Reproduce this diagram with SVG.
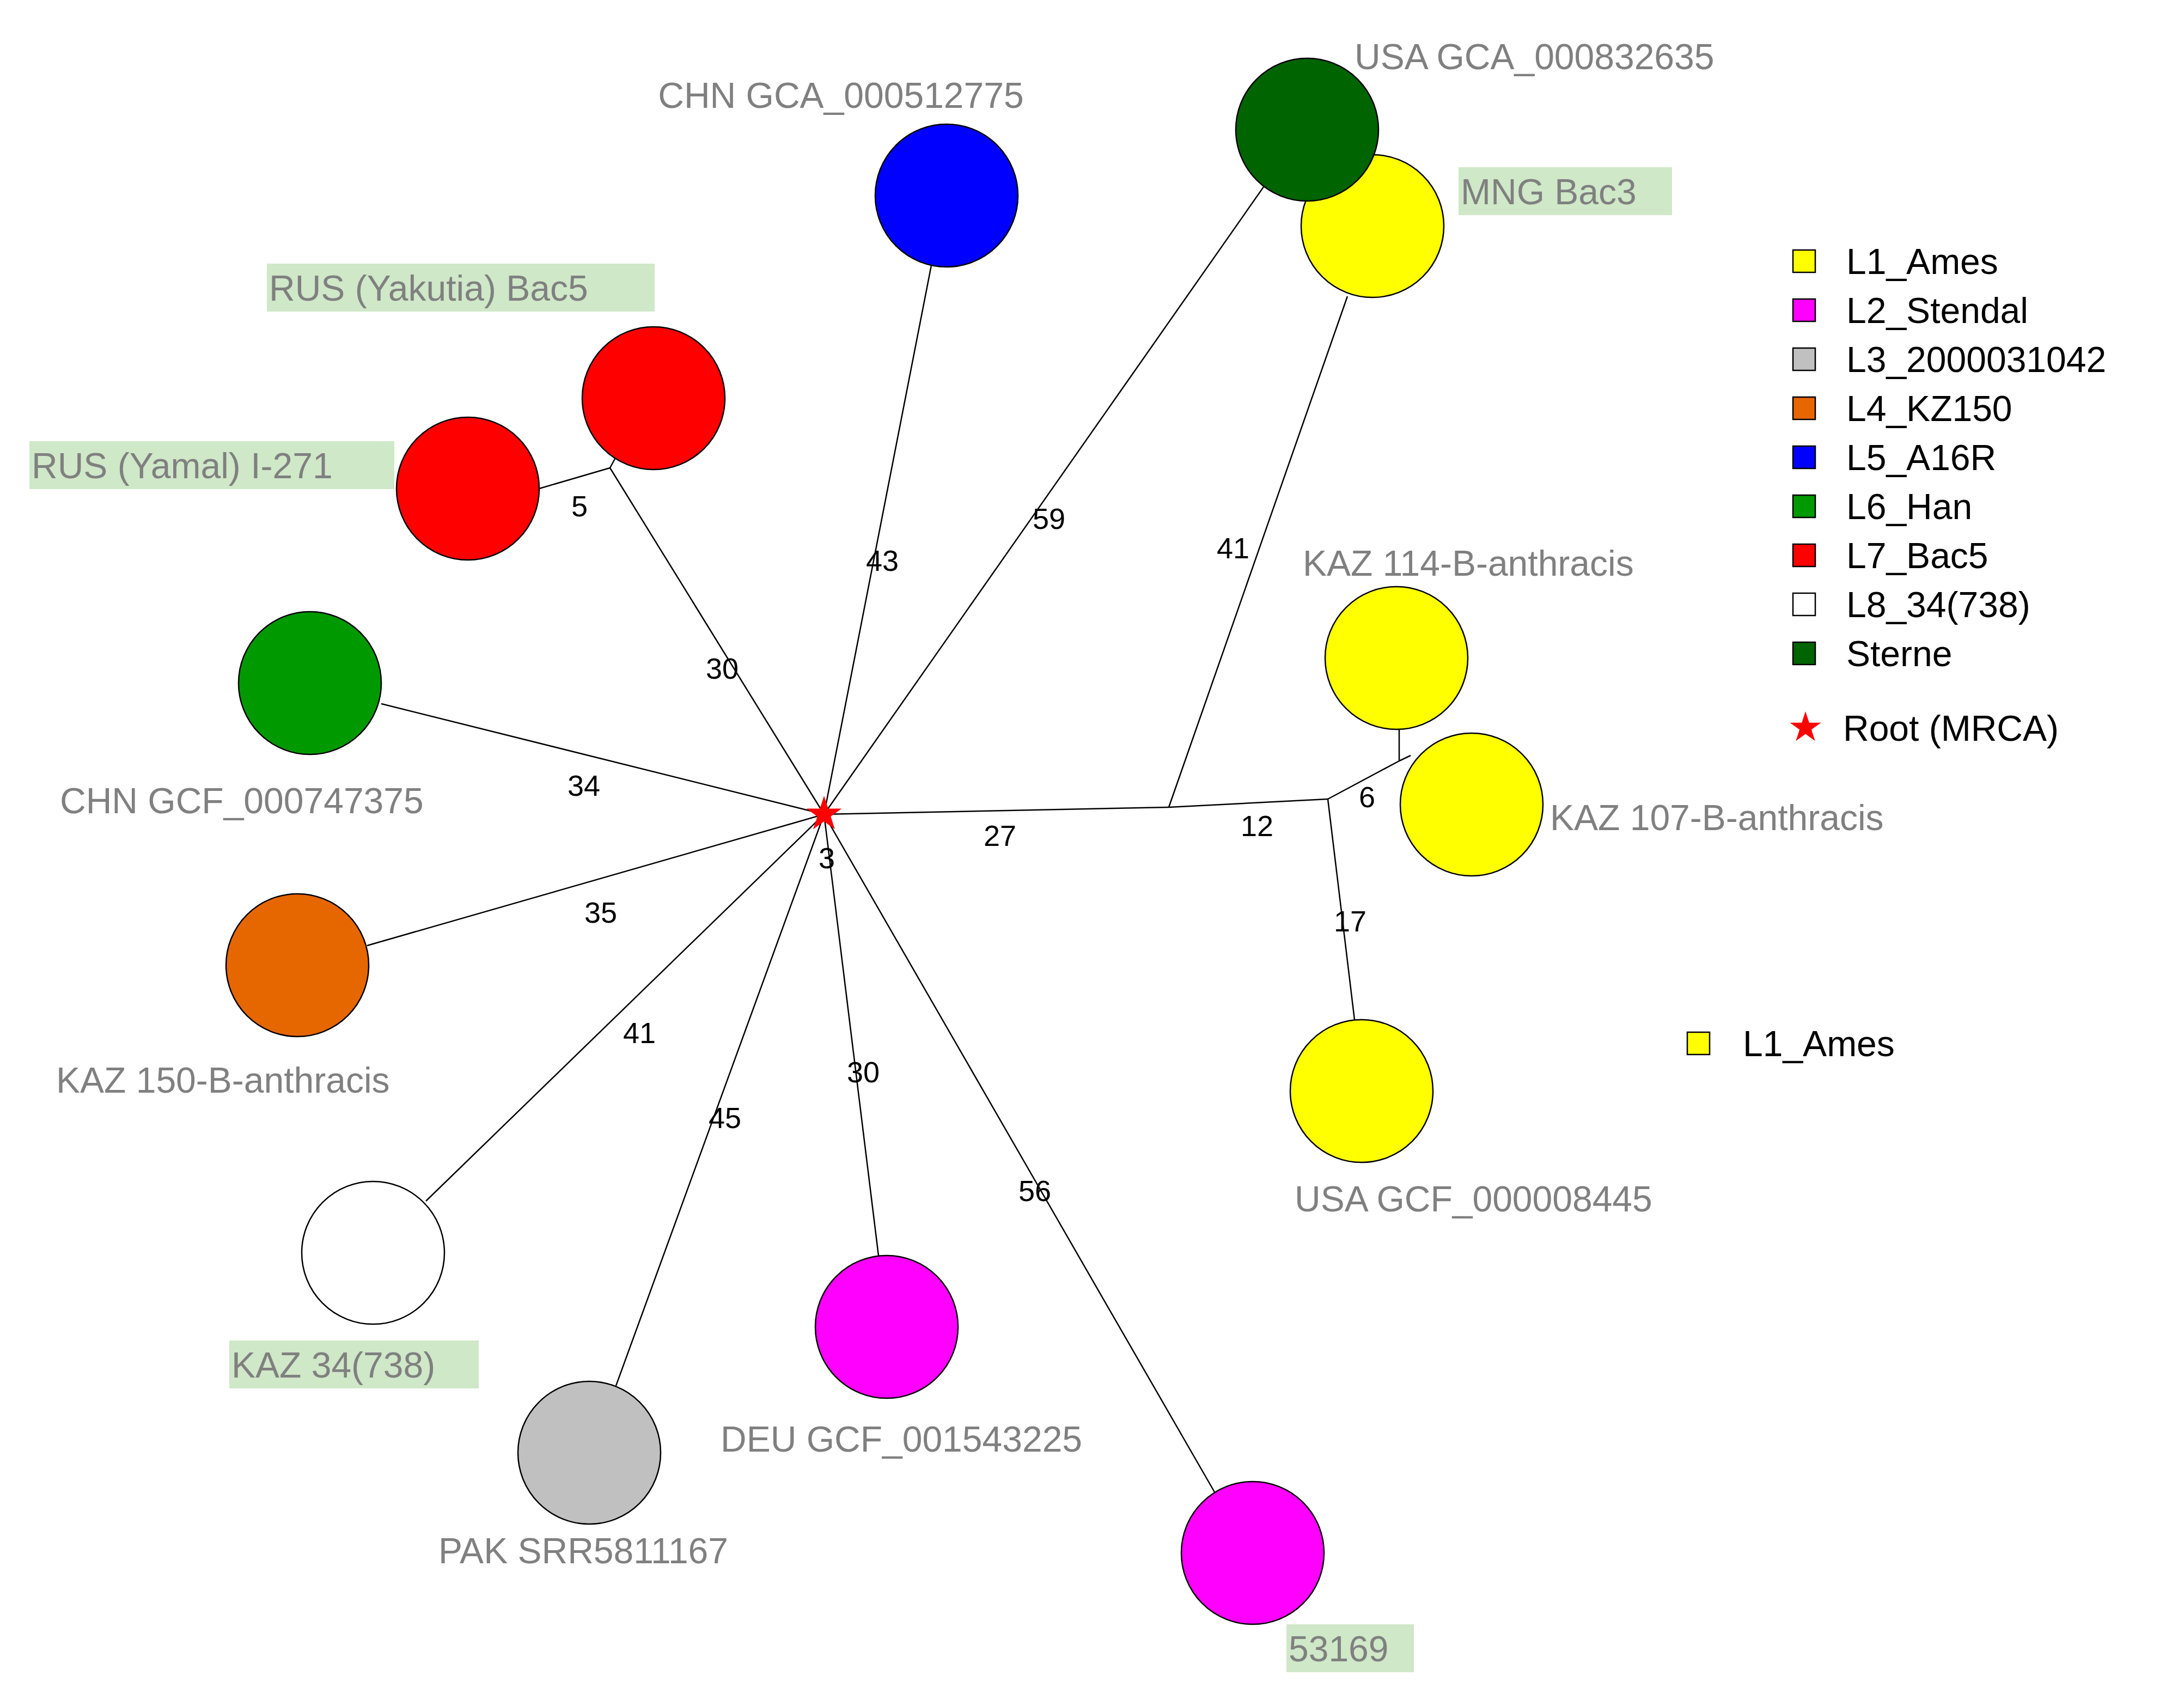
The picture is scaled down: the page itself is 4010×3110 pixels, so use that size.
<svg xmlns="http://www.w3.org/2000/svg" width="4010" height="3110" viewBox="0 0 4010 3110">
<style>
text{font-family:"Liberation Sans",Arial,sans-serif}
.n{stroke:#000;stroke-width:2.5}
.lb{font-size:66px;fill:#808080}
.el{font-size:54px;fill:#000;text-anchor:middle}
.lg{font-size:66px;fill:#000}
.hl{fill:#cfe8c8}
.sq{stroke:#000;stroke-width:2.5}
#edges line{stroke:#000;stroke-width:2.5}
</style>
<rect width="4010" height="3110" fill="#fff"/>
<g id="edges">
<line x1="1513" y1="1495" x2="2146" y2="1482"/>
<line x1="2146" y1="1482" x2="2438" y2="1467"/>
<line x1="2438" y1="1467" x2="2569" y2="1397"/>
<line x1="2569" y1="1397" x2="2569" y2="1333"/>
<line x1="2569" y1="1397" x2="2590" y2="1387"/>
<line x1="2438" y1="1467" x2="2487" y2="1872"/>
<line x1="2146" y1="1482" x2="2474" y2="544"/>
<line x1="1513" y1="1495" x2="2325" y2="336"/>
<line x1="1513" y1="1495" x2="1710" y2="487"/>
<line x1="1513" y1="1495" x2="1120" y2="859"/>
<line x1="1120" y1="859" x2="990" y2="897"/>
<line x1="1120" y1="859" x2="1141" y2="820"/>
<line x1="1513" y1="1495" x2="700" y2="1292"/>
<line x1="1513" y1="1495" x2="674" y2="1736"/>
<line x1="1513" y1="1495" x2="782" y2="2205"/>
<line x1="1513" y1="1495" x2="1131" y2="2544"/>
<line x1="1513" y1="1495" x2="1613" y2="2305"/>
<line x1="1513" y1="1495" x2="2231" y2="2741"/>
</g>
<g id="edge-labels">
<text class="el" x="1836" y="1553">27</text>
<text class="el" x="2308" y="1535">12</text>
<text class="el" x="2510" y="1482">6</text>
<text class="el" x="2479" y="1710">17</text>
<text class="el" x="2264" y="1025">41</text>
<text class="el" x="1926" y="971">59</text>
<text class="el" x="1620" y="1048">43</text>
<text class="el" x="1326" y="1246">30</text>
<text class="el" x="1064" y="948">5</text>
<text class="el" x="1072" y="1461">34</text>
<text class="el" x="1103" y="1694">35</text>
<text class="el" x="1174" y="1915">41</text>
<text class="el" x="1331" y="2071">45</text>
<text class="el" x="1585" y="1987">30</text>
<text class="el" x="1900" y="2205">56</text>
<text class="el" x="1518" y="1594">3</text>
</g>
<g id="root"><polygon fill="#f00" transform="translate(1513,1495) scale(34)" points="0,-1 0.225,-0.309 0.951,-0.309 0.363,0.118 0.588,0.809 0,0.382 -0.588,0.809 -0.363,0.118 -0.951,-0.309 -0.225,-0.309"/></g>
<g id="n-chn-gca512775"><circle class="n" cx="1738" cy="359" r="131" fill="#0000ff"/><text class="lb" x="1544" y="198" text-anchor="middle">CHN GCA_000512775</text></g>
<g id="n-usa-gca832635"><circle class="n" cx="2520" cy="415" r="131" fill="#ffff00"/><circle class="n" cx="2400" cy="238" r="131" fill="#006400"/><text class="lb" x="2487" y="127">USA GCA_000832635</text></g>
<g id="n-mng"><rect class="hl" x="2678" y="307" width="392" height="88"/><text class="lb" x="2682" y="375">MNG Bac3</text></g>
<g id="n-rus-yak"><circle class="n" cx="1200" cy="731" r="131" fill="#ff0000"/><rect class="hl" x="490" y="484" width="712" height="88"/><text class="lb" x="494" y="552">RUS (Yakutia) Bac5</text></g>
<g id="n-rus-yamal"><circle class="n" cx="859" cy="897" r="131" fill="#ff0000"/><rect class="hl" x="54" y="810" width="670" height="88"/><text class="lb" x="58" y="878">RUS (Yamal) I-271</text></g>
<g id="n-chn-gcf"><circle class="n" cx="569" cy="1254" r="131" fill="#009900"/><text class="lb" x="110" y="1493">CHN GCF_000747375</text></g>
<g id="n-kaz150"><circle class="n" cx="546" cy="1772" r="131" fill="#e66600"/><text class="lb" x="103" y="2006">KAZ 150-B-anthracis</text></g>
<g id="n-kaz34"><circle class="n" cx="685" cy="2300" r="131" fill="#fff"/><rect class="hl" x="421" y="2461" width="458" height="88"/><text class="lb" x="425" y="2529">KAZ 34(738)</text></g>
<g id="n-pak"><circle class="n" cx="1082" cy="2667" r="131" fill="#c0c0c0"/><text class="lb" x="805" y="2870">PAK SRR5811167</text></g>
<g id="n-deu"><circle class="n" cx="1628" cy="2436" r="131" fill="#ff00ff"/><text class="lb" x="1323" y="2665">DEU GCF_001543225</text></g>
<g id="n-53169"><circle class="n" cx="2300" cy="2851" r="131" fill="#ff00ff"/><rect class="hl" x="2362" y="2982" width="234" height="88"/><text class="lb" x="2366" y="3050">53169</text></g>
<g id="n-kaz114"><circle class="n" cx="2564" cy="1208" r="131" fill="#ffff00"/><text class="lb" x="2392" y="1057">KAZ 114-B-anthracis</text></g>
<g id="n-kaz107"><circle class="n" cx="2702" cy="1477" r="131" fill="#ffff00"/><text class="lb" x="2846" y="1524">KAZ 107-B-anthracis</text></g>
<g id="n-usa-gcf"><circle class="n" cx="2500" cy="2003" r="131" fill="#ffff00"/><text class="lb" x="2377" y="2224">USA GCF_000008445</text></g>
<g id="legend">
<rect class="sq" x="3292" y="459" width="41" height="41" fill="#ffff00"/><text class="lg" x="3390" y="503">L1_Ames</text>
<rect class="sq" x="3292" y="549" width="41" height="41" fill="#ff00ff"/><text class="lg" x="3390" y="593">L2_Stendal</text>
<rect class="sq" x="3292" y="639" width="41" height="41" fill="#c0c0c0"/><text class="lg" x="3390" y="683">L3_2000031042</text>
<rect class="sq" x="3292" y="729" width="41" height="41" fill="#e66600"/><text class="lg" x="3390" y="773">L4_KZ150</text>
<rect class="sq" x="3292" y="819" width="41" height="41" fill="#0000ff"/><text class="lg" x="3390" y="863">L5_A16R</text>
<rect class="sq" x="3292" y="909" width="41" height="41" fill="#009900"/><text class="lg" x="3390" y="953">L6_Han</text>
<rect class="sq" x="3292" y="999" width="41" height="41" fill="#ff0000"/><text class="lg" x="3390" y="1043">L7_Bac5</text>
<rect class="sq" x="3292" y="1089" width="41" height="41" fill="#fff"/><text class="lg" x="3390" y="1133">L8_34(738)</text>
<rect class="sq" x="3292" y="1179" width="41" height="41" fill="#006400"/><text class="lg" x="3390" y="1223">Sterne</text>
<polygon fill="#f00" transform="translate(3315,1336) scale(30)" points="0,-1 0.225,-0.309 0.951,-0.309 0.363,0.118 0.588,0.809 0,0.382 -0.588,0.809 -0.363,0.118 -0.951,-0.309 -0.225,-0.309"/><text class="lg" x="3384" y="1360">Root (MRCA)</text>
</g>
<g id="legend2"><rect class="sq" x="3098" y="1895" width="41" height="41" fill="#ffff00"/><text class="lg" x="3200" y="1939">L1_Ames</text></g>
</svg>
